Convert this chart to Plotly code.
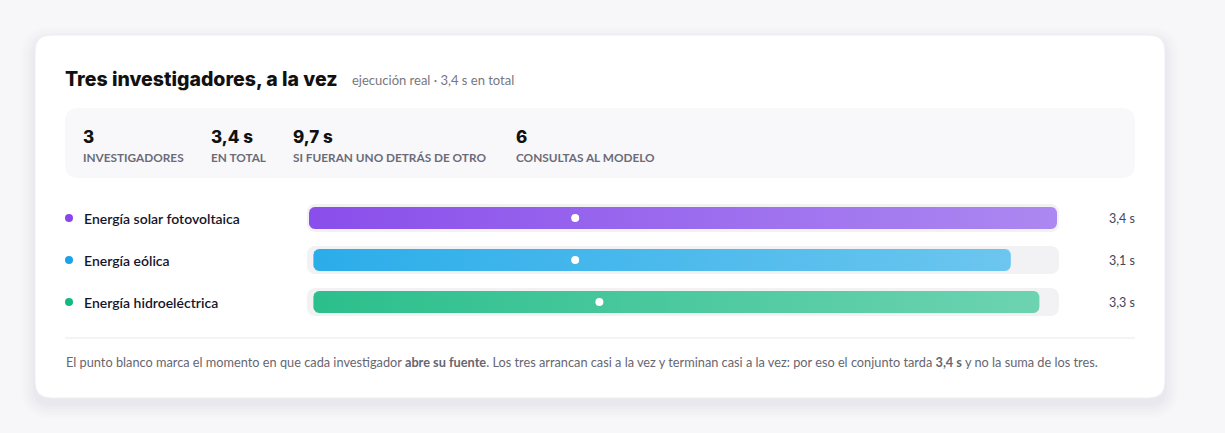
import numpy as np
import plotly.graph_objects as go

# ---------------- data ----------------
investigadores = ["Energía solar fotovoltaica", "Energía eólica", "Energía hidroeléctrica"]
inicio_s = [0.0, 0.02, 0.02]          # start of each run (s)
fin_s = [3.4, 3.19, 3.32]             # end of each run (s)
abre_fuente_s = [1.21, 1.21, 1.32]    # moment the source is opened (s)
duracion_txt = ["3,4 s", "3,1 s", "3,3 s"]
total_s = 3.4

stat_valores = ["3", "3,4 s", "9,7 s", "6"]
stat_etiquetas = ["INVESTIGADORES", "EN TOTAL", "SI FUERAN UNO DETRÁS DE OTRO", "CONSULTAS AL MODELO"]

titulo = "Tres investigadores, a la vez"
subtitulo = "ejecución real · 3,4 s en total"
nota = ("El punto blanco marca el momento en que cada investigador <b>abre su fuente</b>. "
        "Los tres arrancan casi a la vez y terminan casi a la vez: por eso el conjunto tarda "
        "<b>3,4 s</b> y no la suma de los tres.")

# ---------------- style ----------------
W, H = 1225, 433
FONT = "Lato"
FONT_HEAVY = "Inter"
BG = "#f7f7fa"
colores_ini = ["#8a4eeb", "#2badea", "#2bbf8c"]
colores_fin = ["#ac88f1", "#6cc6ef", "#6dd3b1"]
colores_punto = ["#8b45ea", "#1aa3e8", "#14b883"]

PX0, PX1 = 309, 1057          # pixel span of 0..total on the x axis
PAD = 9
ROW_Y = 218                   # first row centre (px from top)
ROW_STEP = 42


def px(x):
    return x / W


def py(y):
    return 1 - y / H


def rrect_path(x0, y0, x1, y1, r):
    pts = [
        f"M{px(x0 + r)},{py(y0)}", f"L{px(x1 - r)},{py(y0)}",
        f"Q{px(x1)},{py(y0)} {px(x1)},{py(y0 + r)}", f"L{px(x1)},{py(y1 - r)}",
        f"Q{px(x1)},{py(y1)} {px(x1 - r)},{py(y1)}", f"L{px(x0 + r)},{py(y1)}",
        f"Q{px(x0)},{py(y1)} {px(x0)},{py(y1 - r)}", f"L{px(x0)},{py(y0 + r)}",
        f"Q{px(x0)},{py(y0)} {px(x0 + r)},{py(y0)}", "Z",
    ]
    return " ".join(pts)


sx = total_s / (PX1 - PX0)    # seconds per pixel
sy = 1 / ROW_STEP             # row units per pixel


def rounded_poly(x0, x1, yc, half_h_px, r_px):
    rx, ry = r_px * sx, r_px * sy
    hh = half_h_px * sy
    xs, ys = [], []
    corners = [
        (x1 - rx, yc - hh + ry, -np.pi / 2, 0),
        (x1 - rx, yc + hh - ry, 0, np.pi / 2),
        (x0 + rx, yc + hh - ry, np.pi / 2, np.pi),
        (x0 + rx, yc - hh + ry, np.pi, 3 * np.pi / 2),
    ]
    for cx, cy, a0, a1 in corners:
        t = np.linspace(a0, a1, 8)
        xs.extend(cx + rx * np.cos(t))
        ys.extend(cy + ry * np.sin(t))
    xs.append(xs[0])
    ys.append(ys[0])
    return xs, ys


fig = go.Figure()

filas = list(range(len(investigadores)))
for i in filas:
    # track
    tx, ty = rounded_poly(-2 * sx, total_s + 2 * sx, i, 14, 8)
    fig.add_trace(go.Scatter(x=tx, y=ty, mode="lines", fill="toself", fillcolor="#f2f2f4",
                             line=dict(width=0), hoverinfo="skip", showlegend=False))
    # run bar
    bx, by = rounded_poly(inicio_s[i], fin_s[i], i, 11, 6)
    fig.add_trace(go.Scatter(
        x=bx, y=by, mode="lines", fill="toself", line=dict(width=0),
        fillgradient=dict(type="horizontal",
                          colorscale=[[0, colores_ini[i]], [1, colores_fin[i]]]),
        hoverinfo="skip", showlegend=False))

fig.add_trace(go.Scatter(x=abre_fuente_s, y=filas, mode="markers",
                         marker=dict(size=8, color="white"),
                         hoverinfo="skip", showlegend=False))

shapes = []
# soft card shadow + card
for k, op in enumerate([0.010, 0.013, 0.016, 0.02, 0.024]):
    g = 14 - 3 * k
    shapes.append(dict(type="path", xref="paper", yref="paper", layer="below",
                       path=rrect_path(35 - g, 35 - g + 6, 1165 + g, 398 + g + 6, 16 + g),
                       fillcolor=f"rgba(70,70,110,{op})", line=dict(width=0)))
shapes.append(dict(type="path", xref="paper", yref="paper", layer="below",
                   path=rrect_path(35, 35, 1165, 398, 16),
                   fillcolor="white", line=dict(color="#eeeef2", width=1)))
# stats box
shapes.append(dict(type="path", xref="paper", yref="paper", layer="below",
                   path=rrect_path(65, 108, 1135, 178, 14),
                   fillcolor="#f8f8fa", line=dict(width=0)))
# separator
shapes.append(dict(type="line", xref="paper", yref="paper", layer="below",
                   x0=px(65), x1=px(1135), y0=py(338), y1=py(338),
                   line=dict(color="#e9e9ee", width=1)))
# row dots
for i in filas:
    yc = ROW_Y + ROW_STEP * i
    shapes.append(dict(type="circle", xref="paper", yref="paper", layer="below",
                       x0=px(65), x1=px(73), y0=py(yc - 4), y1=py(yc + 4),
                       fillcolor=colores_punto[i], line=dict(width=0)))

ann = []


def text(x, y, s, size, color, weight=400, anchor="left", family=FONT):
    ann.append(dict(x=px(x), y=py(y), xref="paper", yref="paper", text=s, showarrow=False,
                    xanchor=anchor, yanchor="middle", align=anchor,
                    font=dict(family=family, size=size, color=color, weight=weight)))


text(63, 79, titulo, 19.5, "#111111", 800, family=FONT_HEAVY)
text(350, 80, subtitulo, 13, "#777780")

stat_x = [83, 211, 293, 516]
for xv, v, l in zip(stat_x, stat_valores, stat_etiquetas):
    text(xv - 2, 137, v, 17, "#111111", 800, family=FONT_HEAVY)
    text(xv - 2, 158, l, 11.8, "#6b6b78", 700)

for i in filas:
    yc = ROW_Y + ROW_STEP * i
    text(82, yc, investigadores[i], 14, "#15152a", 600)
    text(1137, yc, duracion_txt[i], 12.5, "#444455", 400, anchor="right")

text(64, 362, nota, 12.75, "#666670")

fig.update_layout(
    width=W, height=H, margin=dict(l=0, r=0, t=0, b=0),
    paper_bgcolor=BG, plot_bgcolor="rgba(0,0,0,0)",
    shapes=shapes, annotations=ann, showlegend=False,
    xaxis=dict(domain=[px(PX0 - PAD), px(PX1 + PAD)],
               range=[-PAD * sx, total_s + PAD * sx],
               visible=False, fixedrange=True),
    yaxis=dict(domain=[py(ROW_Y + ROW_STEP * 2 + ROW_STEP / 2), py(ROW_Y - ROW_STEP / 2)],
               range=[2.5, -0.5], visible=False, fixedrange=True),
)

fig.write_html(
    "out.html",
    config={"displayModeBar": False},
    post_script=f"document.body.style.margin='0';document.body.style.background='{BG}';",
)
